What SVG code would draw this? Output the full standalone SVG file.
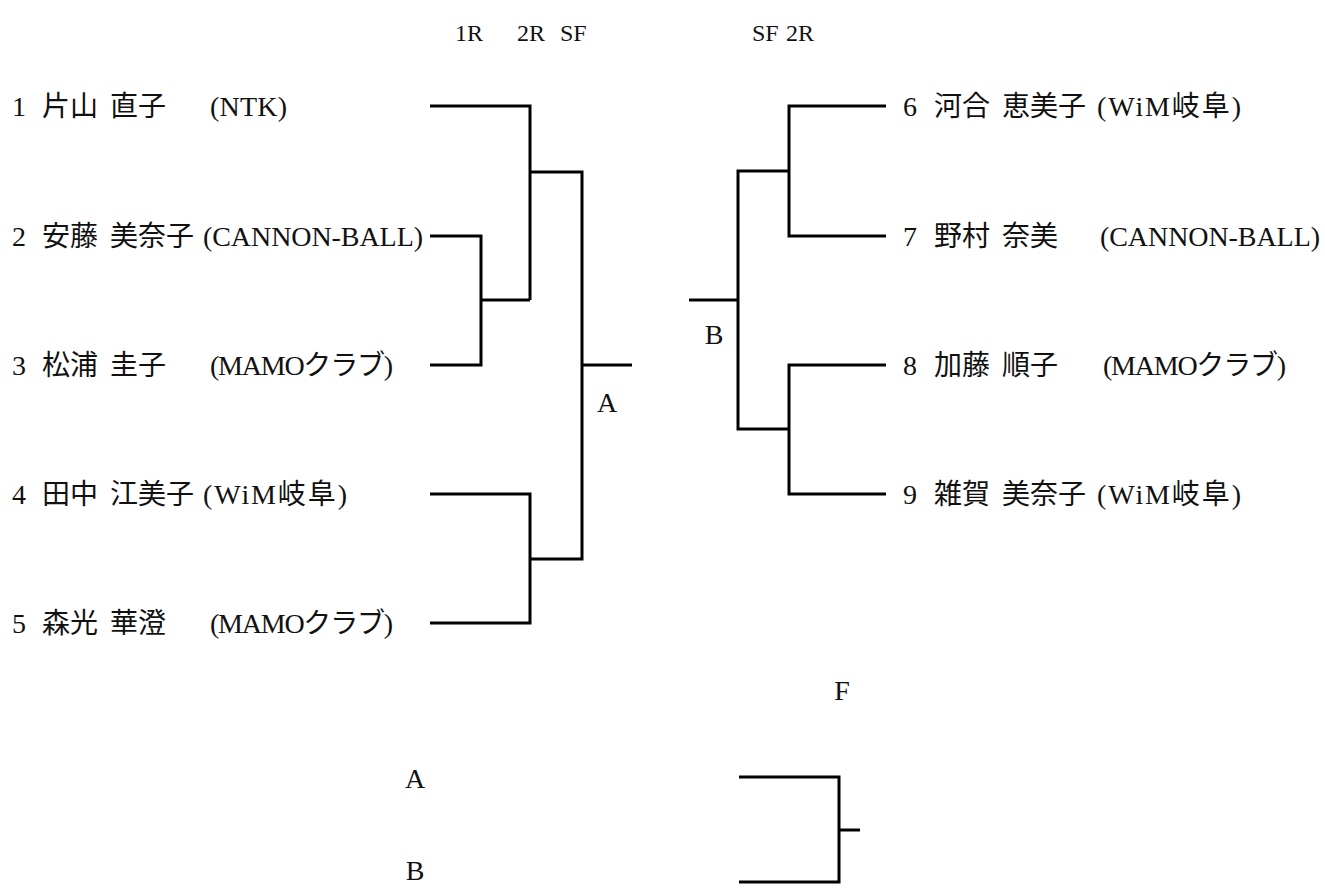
<svg xmlns="http://www.w3.org/2000/svg" width="1325" height="894" viewBox="0 0 1325 894">
<style>
text{font-family:"Liberation Serif","Noto Sans CJK JP",serif;fill:#111;}
.e{font-size:28px;}
.h{font-size:24px;}
.l{font-size:28px;text-anchor:middle;}
.c{fill:none;stroke:#000;stroke-width:3;stroke-linejoin:miter;stroke-linecap:butt;}
</style>
<rect width="1325" height="894" fill="#fff"/>
<g id="header">
<text class="h" x="455" y="41">1R</text>
<text class="h" x="517" y="41">2R</text>
<text class="h" x="560" y="41">SF</text>
<text class="h" x="752" y="41">SF</text>
<text class="h" x="786" y="41">2R</text>
</g>
<g id="p1"><text class="e" y="116"><tspan x="12">1</tspan><tspan x="42">片山</tspan><tspan x="110">直子</tspan><tspan x="210" textLength="77">(NTK)</tspan></text></g>
<g id="p2"><text class="e" y="246"><tspan x="12">2</tspan><tspan x="42">安藤</tspan><tspan x="110">美奈子</tspan><tspan x="203" textLength="220">(CANNON-BALL)</tspan></text></g>
<g id="p3"><text class="e" y="375"><tspan x="12">3</tspan><tspan x="42">松浦</tspan><tspan x="110">圭子</tspan><tspan x="210" textLength="183">(MAMOクラブ)</tspan></text></g>
<g id="p4"><text class="e" y="504"><tspan x="12">4</tspan><tspan x="42">田中</tspan><tspan x="110">江美子</tspan><tspan x="203" textLength="144">(WiM岐阜)</tspan></text></g>
<g id="p5"><text class="e" y="633"><tspan x="12">5</tspan><tspan x="42">森光</tspan><tspan x="110">華澄</tspan><tspan x="210" textLength="183">(MAMOクラブ)</tspan></text></g>
<g id="p6"><text class="e" y="116"><tspan x="903">6</tspan><tspan x="934">河合</tspan><tspan x="1002">恵美子</tspan><tspan x="1097" textLength="144">(WiM岐阜)</tspan></text></g>
<g id="p7"><text class="e" y="246"><tspan x="903">7</tspan><tspan x="934">野村</tspan><tspan x="1002">奈美</tspan><tspan x="1100" textLength="220">(CANNON-BALL)</tspan></text></g>
<g id="p8"><text class="e" y="375"><tspan x="903">8</tspan><tspan x="934">加藤</tspan><tspan x="1002">順子</tspan><tspan x="1103" textLength="183">(MAMOクラブ)</tspan></text></g>
<g id="p9"><text class="e" y="504"><tspan x="903">9</tspan><tspan x="934">雑賀</tspan><tspan x="1002">美奈子</tspan><tspan x="1097" textLength="144">(WiM岐阜)</tspan></text></g>
<g id="labelA"><text class="l" x="607" y="412">A</text></g>
<g id="labelB"><text class="l" x="714" y="344">B</text></g>
<g id="labelF"><text class="l" x="842" y="700">F</text></g>
<g id="finalA"><text class="l" x="415" y="788">A</text></g>
<g id="finalB"><text class="l" x="415" y="880">B</text></g>
<g id="connectors">
<path class="c" d="M430 106 H530 V300"/>
<path class="c" d="M430 236 H481 V365 H430"/>
<path class="c" d="M481 300 H530"/>
<path class="c" d="M530 172 H582 V559 H530"/>
<path class="c" d="M582 365 H632"/>
<path class="c" d="M430 494 H530 V623 H430"/>
<path class="c" d="M886 106 H789 V236 H886"/>
<path class="c" d="M789 171 H738 V429 H789"/>
<path class="c" d="M738 300 H689"/>
<path class="c" d="M886 365 H789 V494 H886"/>
<path class="c" d="M739 777 H839 V882 H739"/>
<path class="c" d="M839 830 H860"/>
</g>
</svg>
